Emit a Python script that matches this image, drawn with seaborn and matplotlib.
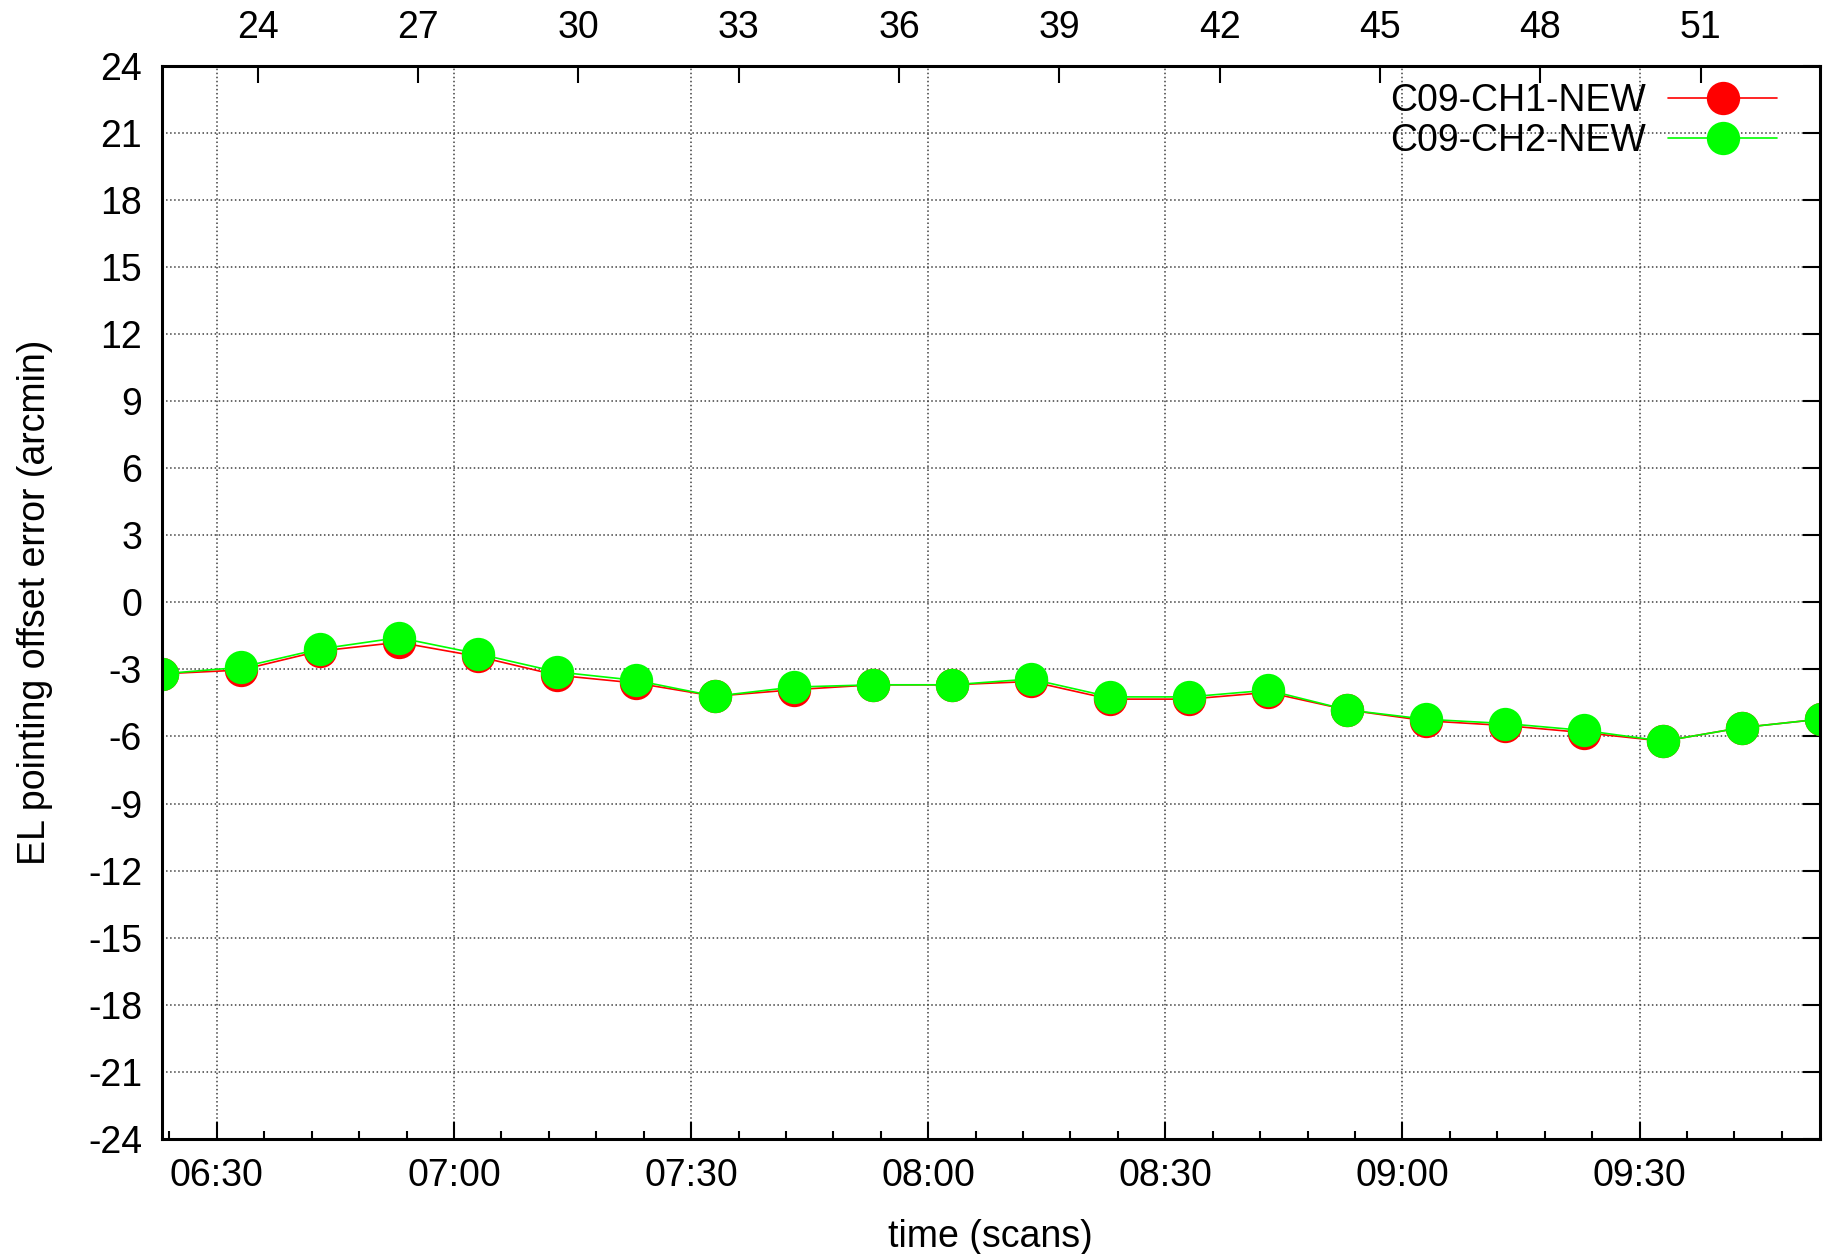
import numpy as np
import pandas as pd
import seaborn as sns
import matplotlib.pyplot as plt
import matplotlib.dates as mdates

# scan times (10 min steps) and EL offsets
times = ['06:23', '06:33', '06:43', '06:53', '07:03', '07:13', '07:23', '07:33',
         '07:43', '07:53', '08:03', '08:13', '08:23', '08:33', '08:43', '08:53',
         '09:03', '09:13', '09:23', '09:33', '09:43', '09:53']
ch1 = [-3.20, -3.03, -2.18, -1.79, -2.42, -3.26, -3.61, -4.20, -3.91, -3.69, -3.69,
       -3.54, -4.33, -4.33, -4.03, -4.81, -5.30, -5.51, -5.83, -6.21, -5.60, -5.22]
ch2 = [-3.20, -2.91, -2.09, -1.58, -2.30, -3.11, -3.49, -4.20, -3.79, -3.69, -3.69,
       -3.43, -4.23, -4.23, -3.93, -4.81, -5.23, -5.42, -5.73, -6.21, -5.60, -5.22]
scan_ticks = list(range(24, 52, 3))
scan_range = (22.2, 53.23)
y_ticks = list(range(-24, 25, 3))

t = pd.to_datetime(['2000-01-01 ' + s for s in times])
df = pd.DataFrame({'time': t, 'ch1': ch1, 'ch2': ch2})

sns.set_style('white')
plt.rcParams['font.family'] = ['Liberation Sans', 'DejaVu Sans']
plt.rcParams['axes.unicode_minus'] = False
plt.rcParams['text.color'] = 'black'
plt.rcParams['axes.labelcolor'] = 'black'
plt.rcParams['xtick.color'] = 'black'
plt.rcParams['ytick.color'] = 'black'

fs = 27

fig, ax = plt.subplots(figsize=(18.36, 12.54), dpi=100)
fig.subplots_adjust(left=0.088, right=0.9913, top=0.9477, bottom=0.0917)

sns.lineplot(data=df, x='time', y='ch1', ax=ax, color='#ff0000', marker='o',
             markersize=24, markeredgewidth=0, linewidth=1.2, label='C09-CH1-NEW')
sns.lineplot(data=df, x='time', y='ch2', ax=ax, color='#00ff00', marker='o',
             markersize=24, markeredgewidth=0, linewidth=1.2, label='C09-CH2-NEW')

ax.set_xlim(pd.Timestamp('2000-01-01 06:23'), pd.Timestamp('2000-01-01 09:52:50'))
ax.set_ylim(-24, 24)
ax.set_yticks(y_ticks)
ax.xaxis.set_major_locator(mdates.MinuteLocator(byminute=[0, 30]))
ax.xaxis.set_minor_locator(mdates.MinuteLocator(byminute=range(0, 60, 6)))
ax.xaxis.set_major_formatter(mdates.DateFormatter('%H:%M'))

ax.grid(True, which='major', color='0.25', linestyle=':', linewidth=1.1)
ax.tick_params(axis='both', which='major', direction='in', length=12, width=1.5,
               labelsize=fs, pad=14, top=True, right=True)
ax.tick_params(axis='x', which='minor', direction='in', length=6, width=1.5, top=True)
for sp in ax.spines.values():
    sp.set_linewidth(2.2)
    sp.set_color('black')

ax.set_xlabel('time (scans)', fontsize=fs, labelpad=18)
ax.set_ylabel('EL pointing offset error (arcmin)', fontsize=fs, labelpad=25)

leg = ax.legend(loc='upper right', bbox_to_anchor=(0.99, 1.008), frameon=False,
                markerfirst=False, fontsize=fs, handlelength=2.9, labelspacing=0.1,
                borderaxespad=0.3, handletextpad=0.6)

ax2 = ax.twiny()
ax2.set_xlim(*scan_range)
ax2.set_xticks(scan_ticks)
ax2.tick_params(axis='x', direction='in', length=12, width=1.5, labelsize=fs, pad=14)
ax2.spines[:].set_visible(False)

fig.savefig('out.png', dpi=100)
